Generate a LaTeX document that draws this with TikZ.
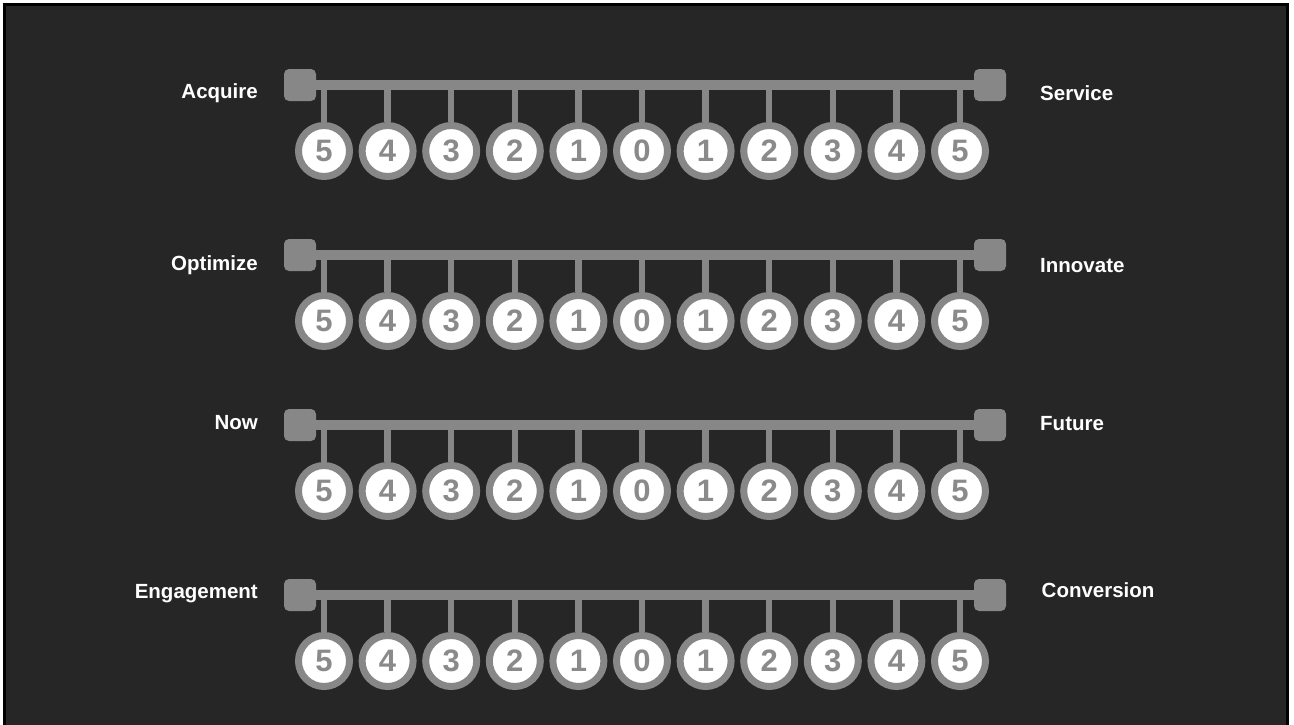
\documentclass[tikz,border=0pt]{standalone}
\usepackage{fontspec}
\setmainfont{Liberation Sans}
\usetikzlibrary{positioning}
\definecolor{bgdark}{HTML}{262626}
\definecolor{rulegray}{HTML}{878787}
\definecolor{digitgray}{HTML}{8A8A8A}
\tikzset{
  endcap/.style={fill=rulegray,rounded corners=5pt,minimum size=32pt,inner sep=0pt},
  dial/.style={circle,draw=rulegray,line width=7pt,fill=white,minimum size=51pt,inner sep=0pt,
    text=digitgray,font=\fontsize{31}{31}\selectfont\bfseries},
  lefttag/.style={anchor=base east,inner sep=0pt,text=white,font=\fontsize{20.5}{24}\selectfont\bfseries},
  righttag/.style={anchor=base west,inner sep=0pt,text=white,font=\fontsize{20.5}{24}\selectfont\bfseries},
  rail/.style={draw=rulegray,line width=10pt},
  stem/.style={draw=rulegray,line width=6.5pt}
}

\begin{document}
\begin{tikzpicture}[x=1pt,y=-1pt]
\useasboundingbox (0,0) rectangle (1294,724);
\fill[white] (0,0) rectangle (1294,724);
\fill[black] (3,3) rectangle (1288.5,730);
\fill[bgdark] (6,6) rectangle (1285.5,730);

\foreach \r/\y/\lt/\rt/\ly/\ry/\rx in {1/85/Acquire/Service/98/100.2/1040,
  2/255/Optimize/Innovate/270.4/272.4/1040,
  3/425/Now/Future/429.4/430.4/1040,
  4/595/Engagement/Conversion/598.4/597/1041.5}{
 \node[lefttag] (L\r) at (258,\ly) {\lt};
 \node[righttag] (R\r) at (\rx,\ry) {\rt};
 \node[endcap] (EL\r) at (300,\y) {};
 \node[endcap] (ER\r) at (990,\y) {};
 \draw[rail] (EL\r) -- (ER\r);
 \foreach \i/\n in {0/5,1/4,2/3,3/2,4/1,5/0,6/1,7/2,8/3,9/4,10/5}{
  \pgfmathsetmacro{\cx}{324+\i*63.6}
  \coordinate (T\r-\i) at (\cx,\y);
  \node[dial] (D\r-\i) at (\cx,\y+66) {\n};
  \draw[stem] (T\r-\i) -- (D\r-\i.north);
 }
}
\end{tikzpicture}
\end{document}
